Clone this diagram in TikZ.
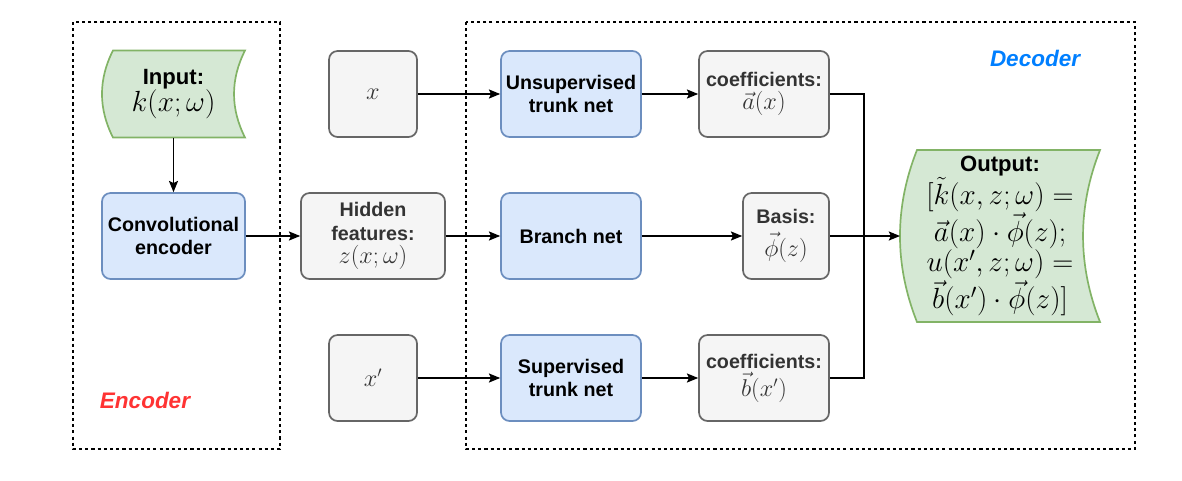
\documentclass[tikz,border=0pt]{standalone}
\usepackage{amsmath}
\usepackage{amssymb}
\usepackage{fontspec}
\setsansfont{Liberation Sans}
\usepackage{tikz}
\usetikzlibrary{arrows.meta}
\usetikzlibrary{positioning}
\usetikzlibrary{calc}
\usetikzlibrary{backgrounds}
\definecolor{mgreen}{HTML}{D5E8D4}
\definecolor{mgreenline}{HTML}{82B366}
\definecolor{mblue}{HTML}{DAE8FC}
\definecolor{mblueline}{HTML}{6C8EBF}
\definecolor{mgray}{HTML}{F5F5F5}
\definecolor{mgrayline}{HTML}{666666}
\definecolor{mdec}{HTML}{007FFF}
\definecolor{menc}{HTML}{FF3333}

\newcommand{\boxfont}{\sffamily\bfseries\fontsize{14}{16.5}\selectfont}
\newcommand{\boxmath}{\fontsize{16}{19}\selectfont}
\newcommand{\shapefont}{\sffamily\bfseries\fontsize{15.7}{19}\selectfont}
\newcommand{\shapemath}{\fontsize{21.5}{24}\selectfont}

\tikzset{
  netbox/.style={rectangle, rounded corners=8.6*0.025cm, draw=mblueline, fill=mblue,
    line width=1.2pt, font=\boxfont, align=center, minimum height=2.15cm, text=black},
  databox/.style={rectangle, rounded corners=8.6*0.025cm, draw=mgrayline, fill=mgray,
    line width=1.2pt, font=\boxfont, align=center, minimum height=2.15cm, text=black!80},
  datashape/.style={rectangle, outer sep=0pt, inner sep=1pt, font=\shapefont, align=center},
  shapeline/.style={draw=mgreenline, fill=mgreen, line width=1.2pt},
  link/.style={-{Stealth[length=8pt, width=6.5pt, inset=1.5pt]}, line width=0.8pt},
  framebox/.style={line width=0.8pt, dash pattern=on 2.2pt off 2.2pt},
  tag/.style={font=\sffamily\bfseries\itshape\fontsize{16}{19}\selectfont}
}

\newcommand{\storedshape}[2]{%
  \draw [shapeline] ($(#1.north west)+(#2,0)$) -- (#1.north east)
    .. controls ($(#1.north east)!1/3!(#1.south east)+(-4*#2/3,0)$)
    and ($(#1.north east)!2/3!(#1.south east)+(-4*#2/3,0)$) .. (#1.south east)
    -- ($(#1.south west)+(#2,0)$)
    .. controls ($(#1.south west)!1/3!(#1.north west)+(-#2/3,0)$)
    and ($(#1.south west)!2/3!(#1.north west)+(-#2/3,0)$) .. ($(#1.north west)+(#2,0)$)
    -- cycle;%
}

\begin{document}
\begin{tikzpicture}[x=0.025cm, y=-0.025cm]
    \useasboundingbox (0, 0) rectangle (1182, 480);

    \draw [framebox] (73, 22) rectangle (280, 449);
    \draw [framebox] (466, 22) rectangle (1135, 449);

    \node [tag, text=menc] (enclabel) at (145, 400) {Encoder};
    \node [tag, text=mdec] (declabel) at (1035, 58) {Decoder};

    \node [datashape, minimum width=3.575cm, minimum height=2.175cm] (input) at (173.5, 94)
      {Input:\\{\shapemath $k(x;\omega)$}};
    \node [netbox, minimum width=3.575cm] (conv) at (173.5, 236) {Convolutional\\encoder};

    \node [databox, minimum width=2.2cm] (xin) at (373, 94) {{\boxmath $x$}};
    \node [databox, minimum width=3.6cm] (hidden) at (373, 236)
      {Hidden\\features:\\{\boxmath $z(x;\omega)$}};
    \node [databox, minimum width=2.2cm] (xsup) at (373, 378) {{\boxmath $x'$}};

    \node [netbox, minimum width=3.5cm] (unsup) at (571, 94) {Unsupervised\\trunk net};
    \node [netbox, minimum width=3.5cm] (branch) at (571, 236) {Branch net};
    \node [netbox, minimum width=3.5cm] (sup) at (571, 378) {Supervised\\trunk net};

    \node [databox, minimum width=3.25cm] (coefa) at (764, 94)
      {coefficients:\\{\boxmath $\vec{a}(x)$}};
    \node [databox, minimum width=2.15cm] (basis) at (786, 236)
      {Basis:\\[5pt]{\boxmath $\vec{\phi}(z)$}};
    \node [databox, minimum width=3.25cm] (coefb) at (764, 378)
      {coefficients:\\[2pt]{\boxmath $\vec{b}(x')$}};

    \node [datashape, minimum width=5cm, minimum height=4.3cm] (output) at (1000, 236)
      {Output:\\{\shapemath $[\tilde{k}(x,z;\omega) =$}\\{\shapemath $\vec{a}(x)\cdot\vec{\phi}(z);$}\\
       {\shapemath $u(x',z;\omega) =$}\\{\shapemath $\vec{b}(x')\cdot\vec{\phi}(z)]$}};

    \begin{scope}[on background layer]
      \storedshape{input}{11}
      \storedshape{output}{17}
    \end{scope}

    \coordinate (merge) at (864, 236);

    \draw [link] (input) -- (conv);
    \draw [link] (conv) -- (hidden);
    \draw [link] (hidden) -- (branch);
    \draw [link] (xin) -- (unsup);
    \draw [link] (xsup) -- (sup);
    \draw [link] (unsup) -- (coefa);
    \draw [link] (branch) -- (basis);
    \draw [link] (sup) -- (coefb);
    \draw [line width=0.8pt] (coefa) -| (merge);
    \draw [line width=0.8pt] (coefb) -| (merge);
    \draw [link] (basis) -- (output);
\end{tikzpicture}
\end{document}
